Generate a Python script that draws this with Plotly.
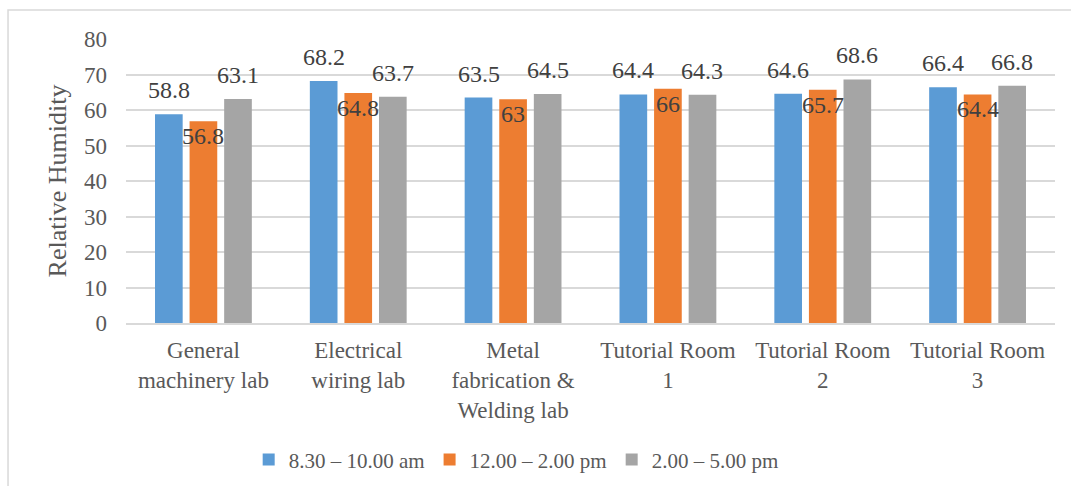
import plotly.graph_objects as go

categories = ["General<br>machinery lab", "Electrical<br>wiring lab",
              "Metal<br>fabrication &<br>Welding lab", "Tutorial Room<br>1",
              "Tutorial Room<br>2", "Tutorial Room<br>3"]
series_names = ["8.30 – 10.00 am", "12.00 – 2.00 pm", "2.00 – 5.00 pm"]
morning = [58.8, 68.2, 63.5, 64.4, 64.6, 66.4]
midday = [56.8, 64.8, 63, 66, 65.7, 64.4]
afternoon = [63.1, 63.7, 64.5, 64.3, 68.6, 66.8]
y_ticks = [0, 10, 20, 30, 40, 50, 60, 70, 80]

colors = ["#5B9BD5", "#ED7D31", "#A5A5A5"]
series = [morning, midday, afternoon]
FONT = "Liberation Serif, Times New Roman, serif"

fig = go.Figure()
for name, vals, col in zip(series_names, series, colors):
    fig.add_trace(go.Bar(x=categories, y=vals, name=name, marker_color=col,
                         marker_line_width=0, hoverinfo="skip"))

# data labels
xshifts = [-34.5, 0, 34.5]
yshifts = [24, -15, 24]
annotations = []
for vals, xs, ys in zip(series, xshifts, yshifts):
    for c, v in zip(categories, vals):
        annotations.append(dict(x=c, y=v, xref="x", yref="y", text=f"{v:g}",
                                showarrow=False, xshift=xs, yshift=ys,
                                font=dict(family=FONT, size=24, color="#404040")))

fig.update_layout(
    width=1071, height=486,
    paper_bgcolor="white", plot_bgcolor="white",
    margin=dict(l=126, r=16, t=39, b=163, autoexpand=False),
    barmode="group", bargap=0.33, bargroupgap=0.2,
    font=dict(family=FONT, size=20, color="#595959"),
    showlegend=True,
    legend=dict(orientation="h", x=0.42, xanchor="center", y=-0.482, yanchor="middle",
                font=dict(family=FONT, size=21, color="#595959"),
                itemwidth=30, tracegroupgap=0, traceorder="normal"),
    annotations=annotations,
    shapes=[dict(type="rect", xref="paper", yref="paper",
                 x0=-0.127, x1=1.1, y0=-0.7, y1=1.102,
                 line=dict(color="#D9D9D9", width=1.5), layer="below")],
)
fig.update_xaxes(showgrid=False, showline=True, linecolor="#D9D9D9", linewidth=1.5,
                 ticks="", ticklabelstandoff=6,
                 tickfont=dict(family=FONT, size=23, color="#595959"),
                 fixedrange=True)
fig.update_yaxes(range=[0, 80], tickvals=y_ticks, showgrid=True, gridcolor="#D9D9D9",
                 gridwidth=1.5, zeroline=False, showline=False, ticks="",
                 ticklen=0, ticklabelstandoff=18,
                 tickfont=dict(family=FONT, size=23, color="#595959"),
                 title=dict(text="Relative Humidity", standoff=9,
                            font=dict(family=FONT, size=26, color="#595959")),
                 fixedrange=True)

fig.write_html("out.html", config={"displayModeBar": False},
               post_script="document.body.style.margin='0';")
